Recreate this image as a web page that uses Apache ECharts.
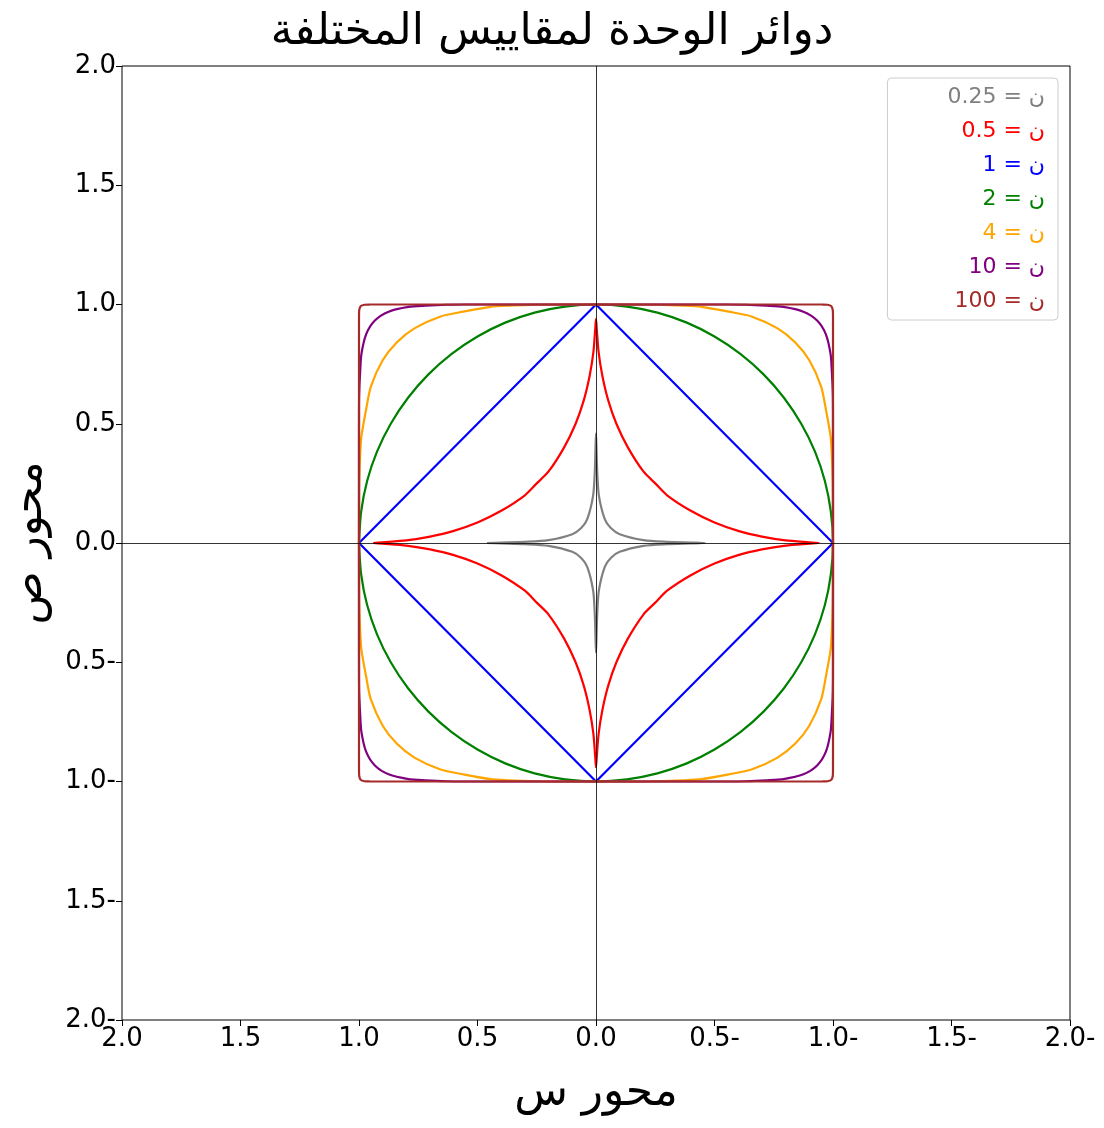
<!DOCTYPE html>
<html><head><meta charset="utf-8">
<script src="https://cdn.jsdelivr.net/npm/echarts@6/dist/echarts.min.js"></script>
<style>html,body{margin:0;background:#fff}#c{width:1104px;height:1128px}</style>
</head><body><div id="c"></div>
<script>
// first-quadrant points, from the x axis to the y axis
var names = ['0.25 = ن', '0.5 = ن', '1 = ن', '2 = ن', '4 = ن', '10 = ن', '100 = ن'];
var colors = ['gray', 'red', 'blue', 'green', 'orange', 'purple', 'brown'];
var q25 = [[0.46,0],[0.4,0.002],[0.3,0.005],[0.2,0.012],[0.1,0.037],[0.0625,0.0625],[0.037,0.1],[0.012,0.2],[0.005,0.3],[0.002,0.4],[0,0.46]];
var q05 = [[0.94,0],[0.9,0.003],[0.8,0.011],[0.7,0.027],[0.6,0.051],[0.5,0.086],[0.4,0.135],[0.3,0.2],[0.25,0.25],[0.2,0.3],[0.135,0.4],[0.086,0.5],[0.051,0.6],[0.027,0.7],[0.011,0.8],[0.003,0.9],[0,0.94]];
var q1 = [[1,0],[0,1]];
var q2 = [[1,0],[0.991,0.131],[0.966,0.259],[0.924,0.383],[0.866,0.5],[0.793,0.609],[0.707,0.707],[0.609,0.793],[0.5,0.866],[0.383,0.924],[0.259,0.966],[0.131,0.991],[0,1]];
var q4 = [[1,0],[0.9999,0.14],[0.999,0.25],[0.995,0.37],[0.99,0.446],[0.97,0.56],[0.95,0.656],[0.9,0.766],[0.841,0.841],[0.766,0.9],[0.656,0.95],[0.56,0.97],[0.446,0.99],[0.37,0.995],[0.25,0.999],[0.14,0.9999],[0,1]];
var q10 = [[1,0],[1,0.4],[0.9999,0.55],[0.999,0.631],[0.995,0.72],[0.99,0.791],[0.97,0.875],[0.933,0.933],[0.875,0.97],[0.791,0.99],[0.72,0.995],[0.631,0.999],[0.55,0.9999],[0.4,1],[0,1]];
var q100 = [[1,0],[1,0.9],[0.9999,0.955],[0.999,0.977],[0.993,0.993],[0.977,0.999],[0.955,0.9999],[0.9,1],[0,1]];
var quads = [q25, q05, q1, q2, q4, q10, q100];

function closed(q) {
  var out = [];
  q.forEach(function (p) { out.push([p[0], p[1]]); });
  q.slice().reverse().forEach(function (p) { out.push([-p[0], p[1]]); });
  q.forEach(function (p) { out.push([-p[0], -p[1]]); });
  q.slice().reverse().forEach(function (p) { out.push([p[0], -p[1]]); });
  return out;
}
function fmt(v) { return v < 0 ? (-v).toFixed(1) + '-' : v.toFixed(1); }

var series = quads.map(function (q, i) {
  return { name: names[i], type: 'line', data: closed(q), showSymbol: false, silent: true,
    smooth: i === 2 ? false : 0.25,
    lineStyle: { color: colors[i], width: 2.2 }, itemStyle: { color: colors[i] } };
});
series[0].markLine = { silent: true, symbol: 'none', label: { show: false },
  lineStyle: { color: '#000', width: 0.8, type: 'solid' }, data: [{ xAxis: 0 }, { yAxis: 0 }] };

var chart = echarts.init(document.getElementById('c'));
chart.setOption({
  animation: false,
  title: { text: 'دوائر الوحدة لمقاييس المختلفة', left: 'center', top: 6,
    textStyle: { fontSize: 44, fontWeight: 'normal', color: '#000', fontFamily: 'DejaVu Sans' } },
  legend: {
    orient: 'vertical', right: 46, top: 78, align: 'right', icon: 'none', itemGap: 12,
    backgroundColor: '#fff', borderColor: '#ccc', borderWidth: 1, borderRadius: 4, padding: [8, 8, 8, 60],
    data: names.map(function (n, i) { return { name: n, textStyle: { color: colors[i] } }; }),
    textStyle: { fontSize: 22, fontFamily: 'DejaVu Sans' }
  },
  grid: { left: 116, right: 34, top: 66, bottom: 108, show: true, borderColor: '#000', borderWidth: 1 },
  xAxis: { type: 'value', inverse: true, min: -2, max: 2, interval: 0.5,
    name: 'محور س', nameLocation: 'middle', nameGap: 52,
    nameTextStyle: { fontSize: 44, color: '#000', fontFamily: 'DejaVu Sans' },
    axisLine: { show: false, onZero: false }, splitLine: { show: false },
    axisTick: { show: true, length: 6, lineStyle: { color: '#000' } },
    axisLabel: { formatter: fmt, fontSize: 26, color: '#000', margin: 6, fontFamily: 'DejaVu Sans' } },
  yAxis: { type: 'value', min: -2, max: 2, interval: 0.5,
    name: 'محور ص', nameLocation: 'middle', nameGap: 70,
    nameTextStyle: { fontSize: 44, color: '#000', fontFamily: 'DejaVu Sans' },
    axisLine: { show: false, onZero: false }, splitLine: { show: false },
    axisTick: { show: true, length: 6, lineStyle: { color: '#000' } },
    axisLabel: { formatter: fmt, fontSize: 26, color: '#000', margin: 6, fontFamily: 'DejaVu Sans' } },
  series: series
});
</script></body></html>
